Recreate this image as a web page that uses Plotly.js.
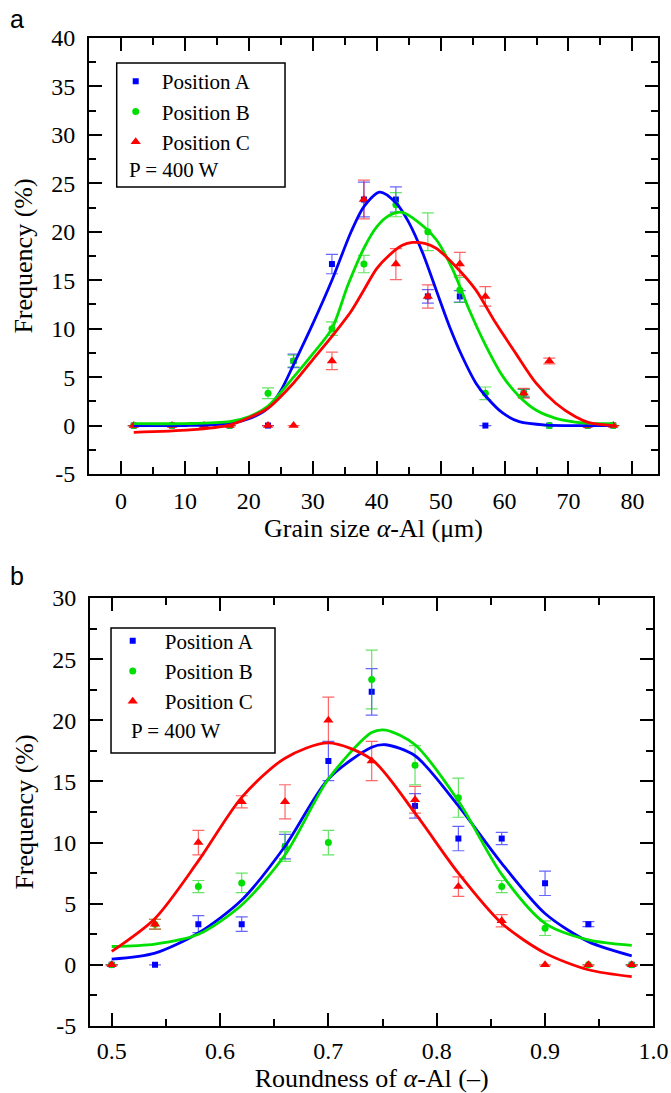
<!DOCTYPE html>
<html>
<head>
<meta charset="utf-8">
<script src="https://cdn.plot.ly/plotly-3.0.1.min.js"></script>
<style>html,body{margin:0;padding:0;background:#fff;}#chart{width:671px;height:1093px;}</style>
</head>
<body>
<div id="chart"></div>
<script>
// ---------- Panel a: grain size ----------
const topX = [2, 8, 13, 17, 23, 27, 33, 38, 43, 48, 53, 57, 63, 67, 73, 77];
const topA = [0, 0, 0, 0, 0, 6.67, 16.67, 23.33, 23.33, 13.33, 13.33, 0, 3.33, 0, 0, 0];
const topAErr = [null, null, null, null, null, 0.7, 1.0, 1.8, 1.3, 0.7, 0.6, null, 0.4, null, null, null];
const topB = [0, 0, 0, 0, 3.33, 6.67, 10.0, 16.67, 22.8, 20.0, 14.0, 3.33, 3.33, 0, 0, 0];
const topBErr = [null, null, null, null, 0.55, 0.6, 0.7, 0.9, 1.25, 1.95, 1.3, 0.65, 0.4, null, null, null];
const topC = [0, 0, 0, 0, 0, 0, 6.67, 23.33, 16.67, 13.33, 16.67, 13.33, 3.33, 6.67, 0, 0];
const topCErr = [null, null, null, null, null, null, 0.9, 2.0, 1.6, 1.2, 1.2, 1.0, 0.5, 0.3, null, null];

const fitTopAX = [2, 10, 17, 20, 23, 25, 27, 30, 33, 36, 38, 40.5, 43, 45, 47.2, 49.3, 51.4, 53.4, 55.5, 57.1, 59.7, 62.3, 66.5, 72, 77];
const fitTopAY = [0, 0, 0.2, 0.7, 1.8, 3.6, 6.3, 10.5, 15, 20, 22.6, 24.1, 23.0, 21.0, 17.8, 14.0, 10.2, 7.1, 4.4, 3.0, 1.3, 0.4, 0.05, 0, 0];
const fitTopBX = [2, 10, 17, 20, 23, 27, 30, 33, 35.5, 38, 40, 42, 44, 46.7, 49.3, 51.9, 54.5, 57.1, 59.7, 62.3, 64.9, 68, 72.7, 77];
const fitTopBY = [0.2, 0.2, 0.4, 0.9, 2.0, 5.0, 7.4, 10.0, 14.5, 18.3, 20.5, 21.7, 22.0, 20.9, 19.2, 16.1, 11.9, 8.2, 5.1, 3.0, 1.6, 0.75, 0.25, 0.2];
const fitTopCX = [2, 10.8, 17, 20, 23, 27, 30, 33, 36, 38, 40, 42, 44, 45.6, 47.5, 49.3, 52.4, 55.5, 58.6, 61.7, 64.9, 68, 71.1, 73.2, 77];
const fitTopCY = [-0.7, -0.45, 0.05, 0.8, 1.8, 4.4, 6.8, 9.2, 11.8, 14.0, 16.2, 17.6, 18.6, 18.9, 18.8, 18.3, 16.4, 14.0, 10.6, 7.5, 4.4, 2.3, 0.9, 0.3, 0];

const topXTicks = [0, 10, 20, 30, 40, 50, 60, 70, 80];
const topXTickText = ['0', '10', '20', '30', '40', '50', '60', '70', '80'];
const topYTicks = [-5, 0, 5, 10, 15, 20, 25, 30, 35, 40];
const topYTickText = ['-5', '0', '5', '10', '15', '20', '25', '30', '35', '40'];

// ---------- Panel b: roundness ----------
const botX = [0.50, 0.54, 0.58, 0.62, 0.66, 0.70, 0.74, 0.78, 0.82, 0.86, 0.90, 0.94, 0.98];
const botA = [0, 0, 3.33, 3.33, 9.67, 16.67, 22.33, 13.0, 10.33, 10.33, 6.67, 3.33, 0];
const botAErr = [null, null, 0.7, 0.6, 1.0, 1.6, 1.9, 1.0, 1.0, 0.5, 1.0, 0.2, null];
const botB = [0, 3.33, 6.4, 6.7, 9.67, 10.0, 23.33, 16.33, 13.67, 6.4, 3.0, 0, 0];
const botBErr = [null, 0.4, 0.5, 0.8, 1.2, 1.0, 2.4, 1.6, 1.6, 0.5, 0.6, null, null];
const botC = [0, 3.33, 10.0, 13.33, 13.33, 20.0, 16.67, 13.5, 6.4, 3.6, 0, 0, 0];
const botCErr = [null, 0.4, 1.0, 0.5, 1.4, 1.9, 1.6, 1.1, 0.8, 0.5, null, null, null];

const fitBotABX = [0.5, 0.54, 0.58, 0.62, 0.66, 0.70, 0.74, 0.753, 0.78, 0.82, 0.86, 0.90, 0.94, 0.98];
const fitBotAY = [0.46, 0.96, 2.6, 5.3, 9.7, 15.2, 17.8, 18.0, 17.1, 13.0, 8.3, 4.2, 1.9, 0.74];
const fitBotBY = [1.5, 1.7, 2.5, 4.9, 9.0, 15.2, 19.0, 19.2, 18.0, 13.4, 7.4, 3.4, 2.05, 1.6];
const fitBotCX = [0.5, 0.54, 0.58, 0.62, 0.66, 0.70, 0.74, 0.78, 0.82, 0.86, 0.90, 0.94, 0.98];
const fitBotCY = [1.1, 3.8, 8.5, 13.7, 16.9, 18.15, 16.8, 12.4, 7.5, 3.4, 0.96, -0.4, -0.96];

const botXTicks = [0.5, 0.6, 0.7, 0.8, 0.9, 1.0];
const botXTickText = ['0.5', '0.6', '0.7', '0.8', '0.9', '1.0'];
const botYTicks = [-5, 0, 5, 10, 15, 20, 25, 30];
const botYTickText = ['-5', '0', '5', '10', '15', '20', '25', '30'];

const seriesNames = ['Position A', 'Position B', 'Position C'];
const powerLabel = 'P = 400 W';

// ---------- styles ----------
const COL = ['#0000ff', '#00e000', '#ff0000'];
const ERRCOL = ['rgba(0,0,255,0.6)', 'rgba(0,210,0,0.6)', 'rgba(255,0,0,0.6)'];
const SYM = ['square', 'circle', 'triangle-up'];
const SIZE = [6, 7, 9];
const SERIF = 'Liberation Serif';

function pointTrace(x, y, err, i, xa, ya, leg) {
  return {
    type: 'scatter', mode: 'markers', x: x, y: y, name: seriesNames[i],
    xaxis: xa, yaxis: ya, legend: leg, legendgroup: leg + i,
    marker: {symbol: SYM[i], size: SIZE[i], color: COL[i]},
    error_y: {type: 'data', array: err, visible: true, color: ERRCOL[i], thickness: 1.2, width: 6}
  };
}
function fitTrace(x, y, i, xa, ya) {
  return {
    type: 'scatter', mode: 'lines', x: x, y: y, xaxis: xa, yaxis: ya, showlegend: false,
    line: {color: COL[i], width: 2.8, shape: 'spline', smoothing: 0.8}, hoverinfo: 'skip'
  };
}

const data = [
  pointTrace(topX, topA, topAErr, 0, 'x', 'y', 'legend'),
  pointTrace(topX, topB, topBErr, 1, 'x', 'y', 'legend'),
  pointTrace(topX, topC, topCErr, 2, 'x', 'y', 'legend'),
  fitTrace(fitTopAX, fitTopAY, 0, 'x', 'y'),
  fitTrace(fitTopBX, fitTopBY, 1, 'x', 'y'),
  fitTrace(fitTopCX, fitTopCY, 2, 'x', 'y'),
  pointTrace(botX, botA, botAErr, 0, 'x2', 'y2', 'legend2'),
  pointTrace(botX, botB, botBErr, 1, 'x2', 'y2', 'legend2'),
  pointTrace(botX, botC, botCErr, 2, 'x2', 'y2', 'legend2'),
  fitTrace(fitBotABX, fitBotAY, 0, 'x2', 'y2'),
  fitTrace(fitBotABX, fitBotBY, 1, 'x2', 'y2'),
  fitTrace(fitBotCX, fitBotCY, 2, 'x2', 'y2')
];

const tickFont = {family: SERIF, size: 24, color: '#000'};
const titleFont = {family: SERIF, size: 26, color: '#000'};
const legFont = {family: SERIF, size: 21, color: '#000'};
function axisBase() {
  return {
    showline: true, linewidth: 2, linecolor: '#000', mirror: 'allticks',
    ticks: 'inside', ticklen: 13, tickwidth: 2, tickcolor: '#000',
    showgrid: false, zeroline: false, tickfont: tickFont, tickmode: 'array'
  };
}

const layout = {
  width: 671, height: 1093,
  margin: {l: 89, r: 13, t: 38, b: 67},
  paper_bgcolor: '#fff', plot_bgcolor: '#fff',
  showlegend: true,
  xaxis: Object.assign(axisBase(), {
    domain: [0, 1], range: [-5, 84], anchor: 'y',
    tickvals: topXTicks, ticktext: topXTickText, ticklabelstandoff: 4,
    minor: {tickmode: 'linear', tick0: 0, dtick: 5, ticks: 'inside', ticklen: 7, tickwidth: 2, tickcolor: '#000'},
    title: {text: 'Grain size <i>α</i>-Al (μm)', font: titleFont, standoff: 1}
  }),
  yaxis: Object.assign(axisBase(), {
    domain: [0.5587, 1], range: [-5, 40], anchor: 'x',
    tickvals: topYTicks, ticktext: topYTickText, ticklabelstandoff: 7,
    minor: {tickmode: 'linear', tick0: 0, dtick: 2.5, ticks: 'inside', ticklen: 7, tickwidth: 2, tickcolor: '#000'},
    title: {text: 'Frequency (%)', font: titleFont, standoff: 11}
  }),
  xaxis2: Object.assign(axisBase(), {
    domain: [0.0018, 0.9919], range: [0.48, 1.0], anchor: 'y2',
    tickvals: botXTicks, ticktext: botXTickText, ticklabelstandoff: 2,
    minor: {tickmode: 'linear', tick0: 0.5, dtick: 0.05, ticks: 'inside', ticklen: 7, tickwidth: 2, tickcolor: '#000'},
    title: {text: 'Roundness of <i>α</i>-Al (–)', font: titleFont, standoff: 2}
  }),
  yaxis2: Object.assign(axisBase(), {
    domain: [0, 0.4332], range: [-5, 30], anchor: 'x2',
    tickvals: botYTicks, ticktext: botYTickText, ticklabelstandoff: 7,
    minor: {tickmode: 'linear', tick0: 0, dtick: 2.5, ticks: 'inside', ticklen: 7, tickwidth: 2, tickcolor: '#000'},
    title: {text: 'Frequency (%)', font: titleFont, standoff: 11}
  }),
  legend: {
    x: 0.0364, y: 0.9767, xanchor: 'left', yanchor: 'top',
    bgcolor: 'rgba(0,0,0,0)', borderwidth: 0, itemwidth: 42, tracegroupgap: 0,
    font: legFont
  },
  legend2: {
    x: 0.0206, y: 0.4104, xanchor: 'left', yanchor: 'top',
    bgcolor: 'rgba(0,0,0,0)', borderwidth: 0, itemwidth: 54, tracegroupgap: 0,
    font: legFont
  },
  shapes: [
    {type: 'rect', xref: 'paper', yref: 'paper', x0: 0.0487, x1: 0.3445, y0: 0.8492, y1: 0.9747, line: {color: '#000', width: 1.5}},
    {type: 'rect', xref: 'paper', yref: 'paper', x0: 0.0387, x1: 0.3269, y0: 0.2763, y1: 0.4028, line: {color: '#000', width: 1.5}}
  ],
  annotations: [
    {text: powerLabel, xref: 'paper', yref: 'paper', x: 0.0663, y: 0.8664, xanchor: 'left', yanchor: 'middle', showarrow: false, font: legFont},
    {text: powerLabel, xref: 'paper', yref: 'paper', x: 0.0708, y: 0.2986, xanchor: 'left', yanchor: 'middle', showarrow: false, font: legFont},
    {text: 'a', xref: 'paper', yref: 'paper', x: -0.1274, y: 1.0192, xanchor: 'center', yanchor: 'middle', showarrow: false, font: {family: 'Liberation Sans', size: 25, color: '#000'}},
    {text: 'b', xref: 'paper', yref: 'paper', x: -0.1274, y: 0.4555, xanchor: 'center', yanchor: 'middle', showarrow: false, font: {family: 'Liberation Sans', size: 25, color: '#000'}}
  ]
};

Plotly.newPlot('chart', data, layout, {displayModeBar: false, staticPlot: true});
</script>
</body>
</html>
